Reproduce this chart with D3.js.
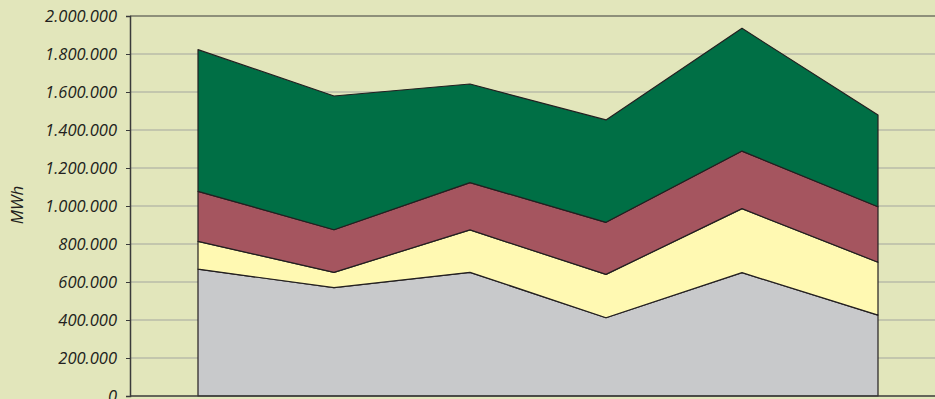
<!DOCTYPE html>
<html>
<head>
<meta charset="utf-8">
<script src="https://cdn.jsdelivr.net/npm/d3@7"></script>
<style>
  html, body { margin: 0; padding: 0; background: #e2e6bb; }
  svg { display: block; }
  text { font-family: "Open Sans", sans-serif; font-style: italic; fill: #231f20; }
</style>
</head>
<body>
<svg id="chart"></svg>
<script>
const width = 935;
const height = 399;

// data (MWh), one value per period, stacked bottom to top
const periods = ["1", "2", "3", "4", "5", "6"];
const grey = [668000, 570000, 651000, 412000, 649000, 426000];
const yellow = [146000, 81000, 223000, 228000, 337000, 278000];
const red = [263000, 224000, 249000, 274000, 303000, 292000];
const green = [746000, 704000, 519000, 539000, 646000, 483000];
const seriesNames = ["grey", "yellow", "red", "green"];
const colours = ["#c8c9cb", "#fff9b2", "#a5555f", "#006f45"];
const yTicks = [0, 200000, 400000, 600000, 800000, 1000000, 1200000, 1400000, 1600000, 1800000, 2000000];

const rows = periods.map((p, i) => ({
  period: p, grey: grey[i], yellow: yellow[i], red: red[i], green: green[i]
}));

const plotLeft = 130, plotTop = 16, plotBottom = 396, plotRight = 946;

const svg = d3.select("#chart").attr("width", width).attr("height", height);

const x = d3.scaleBand().domain(periods).range([plotLeft, plotRight]);
const y = d3.scaleLinear().domain([0, 2000000]).range([plotBottom, plotTop]);

const fmt = d => d3.format(",")(d).replace(/,/g, ".");

// gridlines
svg.append("g")
  .selectAll("line")
  .data(yTicks.slice(1, -1))
  .join("line")
  .attr("x1", plotLeft).attr("x2", width)
  .attr("y1", d => y(d)).attr("y2", d => y(d))
  .attr("stroke", "#a3a5a0")
  .attr("stroke-width", 1.2);

const stack = d3.stack().keys(seriesNames);
const layers = stack(rows);

const area = d3.area()
  .x(d => x(d.data.period) + x.bandwidth() / 2)
  .y0(d => y(d[0]))
  .y1(d => y(d[1]));

svg.append("g")
  .selectAll("path")
  .data(layers)
  .join("path")
  .attr("d", d => area(d))
  .attr("fill", (d, i) => colours[i])
  .attr("stroke", "#231f20")
  .attr("stroke-width", 1.2)
  .attr("stroke-linejoin", "round");

// top border
svg.append("line")
  .attr("x1", plotLeft).attr("x2", width)
  .attr("y1", plotTop).attr("y2", plotTop)
  .attr("stroke", "#3a3a3a").attr("stroke-width", 1.2);

// bottom axis line
svg.append("line")
  .attr("x1", plotLeft).attr("x2", width)
  .attr("y1", plotBottom).attr("y2", plotBottom)
  .attr("stroke", "#3a3a3a").attr("stroke-width", 1.5);

// left axis
const yAxis = d3.axisLeft(y)
  .tickValues(yTicks)
  .tickFormat(fmt)
  .tickSize(4)
  .tickPadding(9);

const gy = svg.append("g")
  .attr("transform", `translate(${plotLeft},0)`)
  .call(yAxis);
gy.select(".domain").attr("stroke", "#3a3a3a").attr("stroke-width", 1.5);
gy.selectAll(".tick line").attr("stroke", "#3a3a3a");
gy.selectAll(".tick text")
  .style("font-size", "16.5px")
  .style("font-family", "'Open Sans', sans-serif")
  .style("font-style", "italic")
  .style("fill", "#231f20");

// y axis title
svg.append("text")
  .attr("transform", "translate(23,205) rotate(-90)")
  .attr("text-anchor", "middle")
  .style("font-size", "17px")
  .text("MWh");
</script>
</body>
</html>
